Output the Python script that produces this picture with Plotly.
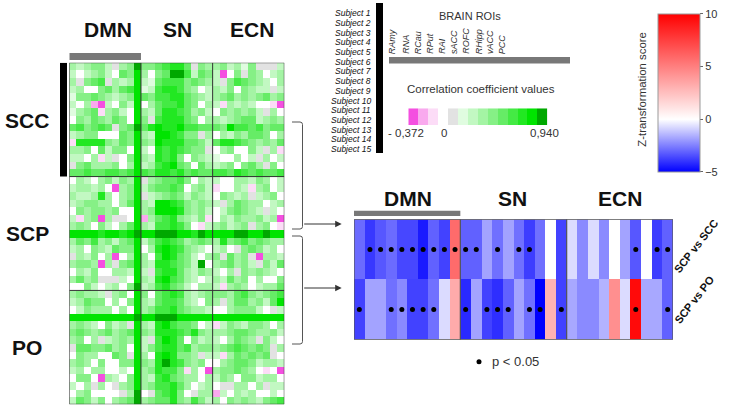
import plotly.graph_objects as go

W, H = 729, 411


def px(x):
    return x / W


def py(y):
    return 1 - y / H


# ---------------- data ----------------
networks = ["DMN", "SN", "ECN"]
rois = ["RAmy", "RNA", "RCau", "RPut", "RAI", "sACC", "ROFC", "RHipp", "vACC", "PCC"]
groups = ["SCC", "SCP", "PO"]
subjects = [f"Subject {i}" for i in range(1, 16)]
comparisons = ["SCP vs SCC", "SCP vs PO"]

corr_min, corr_max = -0.372, 0.940
corr_tick_labels = ["- 0,372", "0", "0,940"]
# 14 colour classes of the correlation legend (magenta -> dark green)
level_codes = "mpqwg56789abcd"
level_colors = ["#f44fe0", "#f9a9ee", "#fcdcf7", "#ffffff", "#e2e2e2",
                "#e0fce0", "#c2f8c2", "#a4f4a4", "#86f086", "#66ec66",
                "#44ea44", "#22e822", "#00e400", "#00a800"]

# correlation class per subject (rows) and ROI (DMN | SN | ECN)
scc_rows = [
    "767886g78d 889abb9g87 786758ggg6",
    "6w6786w98c 7w89dda698 6mw8g87w67",
    "7g89ag767c 659aaa8987 6g8a9876w7",
    "67ww8979ac 56abba87w6 768w8766g6",
    "588987678c 98aabb9876 7897878978",
    "6w7pm6w86c w79aab98w7 6q7676wwqm",
    "5789q786wc 769bba9786 w878786g7w",
    "w8798798wc 8gabbb98w7 7678996787",
    "9a89a9g89d 9bcbbcaa99 98caa9a899",
    "6788www98c 76ccba88g7 w7687998w7",
    "qbbbb8798c 87cbbb9986 9bba987879",
    "778w9688wc 6wbaba988g w78ww86g7q",
    "66w7q6gw8c 76bab8w876 5ww7w6g7w6",
    "g897778w7c 67abc98w97 678w897g8w",
    "99a99aa9ac a9bbab9a99 aa9ba9a99a",
]
scp_rows = [
    "w76w78687c g7899a8w76 6ww77687w6",
    "67767wm78c 6899a9w786 qww76q78w6",
    "7667b7w78c g678986876 w8767g678w",
    "678877w79c 76ccba8787 6g79877w67",
    "w878878wwc 78cccb8786 w689876g6w",
    "6q78m7ggwc p79ab8768q w76877867m",
    "787w86w79c 76aaba8wq6 78678g78wq",
    "ccccbccbcd ccdddccbdc cccddccdcc",
    "798a78689c 68aba97898 7b89a89877",
    "67w876988c w7bcba876w 67wg89867w",
    "g768w7mw7c 7wacb986w7 8g978gm776",
    "7887m7g89c 76bba986dw 789786g869",
    "w768ww776c 6gabb97687 6w7g87876w",
    "7978ggg6wc 76bca976w6 76978w7ww8",
    "ww86w67w8d 67ab986w77 6q787w6779",
]
po_rows = [
    "78776g78wc 8w9aba7678 8879a8789a",
    "67988w7w8c 769aa976w8 7g7997869c",
    "w68777w7wc 78aab98776 ww78886wg6",
    "cccccccccd ccdddccccc cccccccccc",
    "7876w867gc 76bca998w6 q6876887w7",
    "898789789c 87bbba9b87 7789987786",
    "78w7g6787c 6gacb9w867 6w7987g86w",
    "g9988978wc 68abb9a788 789a9898g7",
    "w877ww98gc 7wbcb887g6 6q798989gw",
    "787w8ww88c 87bdba878w w789986776",
    "67w77ww6wc 78baa8q7wm 788987wqwm",
    "w88wm76w8c 76ab9877w7 687w88677w",
    "6w7g7wg78c 78aab97w67 wgg77w7g66",
    "w78wwwwg7d wg9ab8wg77 p6w767ww6w",
    "69868w789d 7899b87a86 7w8787689a",
]

# Z-transformation scores per ROI (DMN | SN | ECN)
z_scp_vs_scc = [-2.9, -3.9, -3.3, -2.9, -3.6, -3.6, -4.5, -3.1, -3.7, 5.8,
                -3.1, -3.1, -1.8, -2.8, -1.8, -2.8, -3.8, -2.8, 0.0, -3.7,
                -0.7, -2.3, -0.7, -2.3, 0.0, -1.8, -3.3, 0.0, -3.8, -3.1]
z_scp_vs_po = [-3.7, -1.8, -1.8, -2.8, -2.3, -3.7, -3.7, -2.8, -0.7, 3.3,
               -4.2, -1.8, -3.7, -4.1, -3.1, -1.8, -2.8, -5.0, 3.0, -3.7,
               -1.7, -2.3, -2.3, -1.5, 4.4, -0.7, 9.6, -1.7, -1.7, -3.1]
sig_scp_vs_scc = [1, 2, 3, 4, 5, 6, 7, 8, 9, 10, 11, 13, 15, 16, 26, 28, 29]
sig_scp_vs_po = [0, 3, 4, 5, 6, 7, 10, 12, 13, 14, 16, 17, 19, 26, 29]
z_ticks = [-5, 0, 5, 10]

# ---------------- derived ----------------
step = (corr_max - corr_min) / len(level_colors)


def decode(rows):
    out = []
    for r in rows:
        s = r.replace(" ", "")
        out.append([corr_min + (level_codes.index(ch) + 0.5) * step for ch in s])
    return out


corr = decode(scc_rows) + decode(scp_rows) + decode(po_rows)
n_cols = len(networks) * len(rois)
n_rows = len(corr)

disc_scale = []
for k, c in enumerate(level_colors):
    disc_scale.append([k / len(level_colors), c])
    disc_scale.append([(k + 1) / len(level_colors), c])

z_scale = [[0, "#0000ff"], [1 / 3, "#ffffff"], [1, "#ff0000"]]

FONT = "Liberation Sans, Arial, sans-serif"
fig = go.Figure()

fig.add_trace(go.Heatmap(z=corr, x=list(range(n_cols)), y=list(range(n_rows)),
                         colorscale=disc_scale, zmin=corr_min, zmax=corr_max,
                         showscale=False, xaxis="x", yaxis="y"))

fig.add_trace(go.Heatmap(z=[z_scp_vs_scc, z_scp_vs_po], x=list(range(n_cols)), y=[0, 1],
                         colorscale=z_scale, zmin=-5, zmax=10, xaxis="x2", yaxis="y2",
                         colorbar=dict(x=px(657.7), xanchor="left", xpad=0,
                                       y=py(92.9), yanchor="middle", ypad=0,
                                       len=157.7, lenmode="pixels",
                                       thickness=42.3, thicknessmode="pixels",
                                       tickvals=z_ticks, ticks="outside", ticklen=3,
                                       tickcolor="#666",
                                       tickfont=dict(size=11, color="#333", family=FONT),
                                       outlinewidth=1, outlinecolor="#999")))

fig.add_trace(go.Scatter(x=sig_scp_vs_scc, y=[0] * len(sig_scp_vs_scc), mode="markers",
                         marker=dict(color="black", size=5), xaxis="x2", yaxis="y2",
                         showlegend=False, hoverinfo="skip"))
fig.add_trace(go.Scatter(x=sig_scp_vs_po, y=[1] * len(sig_scp_vs_po), mode="markers",
                         marker=dict(color="black", size=5), xaxis="x2", yaxis="y2",
                         showlegend=False, hoverinfo="skip"))

legend_vals = [corr_min + (k + 0.5) * step for k in range(len(level_colors))]
fig.add_trace(go.Heatmap(z=[legend_vals], x=list(range(len(level_colors))), y=[0],
                         colorscale=disc_scale, zmin=corr_min, zmax=corr_max,
                         showscale=False, xaxis="x3", yaxis="y3"))

hidden = dict(visible=False, showgrid=False, zeroline=False, fixedrange=True)
layout = dict(
    width=W, height=H, margin=dict(l=0, r=0, t=0, b=0),
    paper_bgcolor="white", plot_bgcolor="white", showlegend=False,
    font=dict(family=FONT, color="#222"),
    xaxis=dict(domain=[px(69.3), px(284.3)], range=[-0.5, n_cols - 0.5], anchor="y", **hidden),
    yaxis=dict(domain=[py(404.3), py(62.7)], range=[n_rows - 0.5, -0.5], anchor="x", **hidden),
    xaxis2=dict(domain=[px(354), px(673)], range=[-0.5, n_cols - 0.5], anchor="y2", **hidden),
    yaxis2=dict(domain=[py(339.7), py(219.3)], range=[1.5, -0.5], anchor="x2", **hidden),
    xaxis3=dict(domain=[px(408.3), px(547.3)], range=[-0.5, len(level_colors) - 0.5], anchor="y3", **hidden),
    yaxis3=dict(domain=[py(125), py(108.3)], range=[-0.5, 0.5], anchor="x3", **hidden),
)
fig.update_layout(**layout)

shapes = []
line_dark = dict(color="#333", width=1)
# left heatmap frame and separators
shapes.append(dict(type="rect", xref="x", yref="y", x0=-0.5, x1=n_cols - 0.5, y0=-0.5, y1=n_rows - 0.5, line=line_dark))
for b in (9.5, 19.5):
    shapes.append(dict(type="line", xref="x", yref="y", x0=b, x1=b, y0=-0.5, y1=n_rows - 0.5, line=line_dark))
for b in (14.5, 29.5):
    shapes.append(dict(type="line", xref="x", yref="y", x0=-0.5, x1=n_cols - 0.5, y0=b, y1=b, line=line_dark))
# bottom heatmap frame and separators
line_mid = dict(color="#555", width=1.2)
shapes.append(dict(type="rect", xref="x2", yref="y2", x0=-0.5, x1=n_cols - 0.5, y0=-0.5, y1=1.5, line=line_mid))
for b in (9.5, 19.5):
    shapes.append(dict(type="line", xref="x2", yref="y2", x0=b, x1=b, y0=-0.5, y1=1.5, line=line_mid))
# gray bars
gray = "#787878"
shapes.append(dict(type="rect", xref="x", yref="paper", x0=-0.5, x1=9.5, y0=py(60), y1=py(53), fillcolor=gray, line=dict(width=0)))
shapes.append(dict(type="rect", xref="x2", yref="paper", x0=-0.5, x1=9.5, y0=py(216), y1=py(210.7), fillcolor=gray, line=dict(width=0)))
shapes.append(dict(type="rect", xref="paper", yref="paper", x0=px(389), x1=px(570), y0=py(63.5), y1=py(57), fillcolor=gray, line=dict(width=0)))
# black bars
shapes.append(dict(type="rect", xref="paper", yref="y", x0=px(60), x1=px(67), y0=-0.5, y1=14.5, fillcolor="black", line=dict(width=0)))
shapes.append(dict(type="rect", xref="paper", yref="paper", x0=px(376), x1=px(383), y0=py(153), y1=py(3), fillcolor="black", line=dict(width=0)))


def bracket(y0, y1):
    pts = f"M {px(292)},{py(y0)} L {px(300)},{py(y0)} Q {px(302.5)},{py(y0)} {px(302.5)},{py(y0 + 2.5)} " \
          f"L {px(302.5)},{py(y1 - 2.5)} Q {px(302.5)},{py(y1)} {px(300)},{py(y1)} L {px(292)},{py(y1)}"
    return dict(type="path", xref="paper", yref="paper", path=pts, line=dict(color="#555", width=1))


shapes.append(bracket(122, 229))
shapes.append(bracket(236, 344))
# p-value legend dot
shapes.append(dict(type="circle", xref="paper", yref="paper", x0=px(476.5), x1=px(481.5),
                   y0=py(364.2), y1=py(359.2), fillcolor="black", line=dict(width=0)))
fig.update_layout(shapes=shapes)

ann = []


def text(x, y, t, size, xanchor="center", yanchor="middle", angle=0, color="#111"):
    ann.append(dict(x=px(x), y=py(y), xref="paper", yref="paper", text=t, showarrow=False,
                    xanchor=xanchor, yanchor=yanchor, textangle=angle,
                    font=dict(size=size, color=color, family=FONT)))


# network titles
for cx, name in zip((108, 177, 252), networks):
    text(cx, 29.5, f"<b>{name}</b>", 21)
for cx, name in zip((407.5, 512.5, 620), networks):
    text(cx, 199, f"<b>{name}</b>", 21)
# group labels
for cy, g in zip((121, 233, 347), groups):
    text(27, cy, f"<b>{g}</b>", 21)
# subjects
for i, s in enumerate(subjects):
    text(373, 13.3 + i * (149 - 13.3) / 14, f"<i>{s}</i>", 8.5, xanchor="right")
text(470, 16, "BRAIN ROIs", 11, color="#333")
roi_x = [391.7, 405.3, 417.7, 429.3, 441.7, 454, 465.7, 478.7, 490, 502.3]
for x, r in zip(roi_x, rois):
    text(x, 56, f"<i>{r}</i>", 9, yanchor="bottom", angle=-90, color="#333")
text(481, 89, "Correlation coefficient values", 11.5, color="#333")
for x, t in zip((406, 444, 544), corr_tick_labels):
    text(x, 133, t, 11.5, color="#333")
text(641.7, 89, "Z-transformation score", 11.4, angle=-90, color="#333")
text(696, 246, f"<b>{comparisons[0]}</b>", 11, angle=-52)
text(694, 300, f"<b>{comparisons[1]}</b>", 11, angle=-52)
text(490, 361.7, "p < 0.05", 13, xanchor="left", color="#333")

# arrows
for yv in (224, 288):
    ann.append(dict(x=px(341.7), y=py(yv), xref="paper", yref="paper", ax=-39, ay=0,
                    text="", showarrow=True, arrowhead=2, arrowsize=1.3, arrowwidth=1,
                    arrowcolor="#333"))

fig.update_layout(annotations=ann)
fig.write_html("out.html", config={"displayModeBar": False},
               post_script="document.body.style.margin='0';document.body.style.overflow='hidden';")
